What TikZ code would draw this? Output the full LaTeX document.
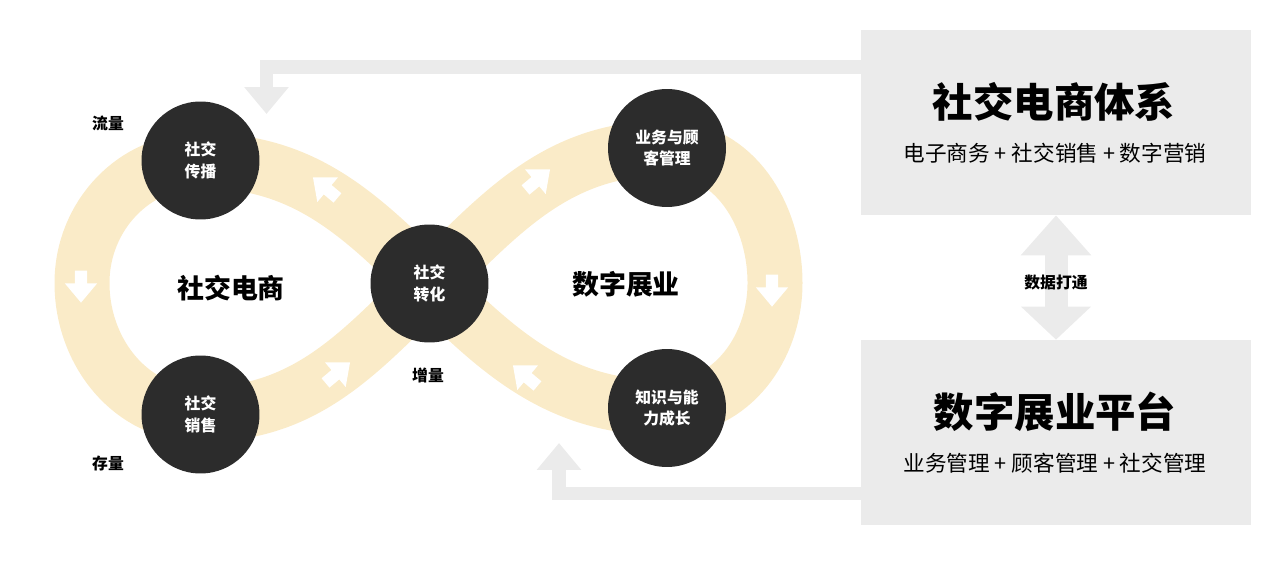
\documentclass[tikz,border=0pt]{standalone}
\usepackage{fontspec}
\setmainfont{Noto Sans CJK SC}
\usetikzlibrary{arrows.meta,shapes.arrows,backgrounds}
\definecolor{bandyellow}{HTML}{FAEBC8}
\definecolor{discdark}{HTML}{2C2C2C}
\definecolor{panelgray}{HTML}{EBEBEB}
\begin{document}
\begin{tikzpicture}[x=0.02cm,y=0.02cm,
	disc/.style={circle,fill=discdark,minimum size=2.36cm,inner sep=0pt,text=white,align=center,font=\bfseries\fontsize{9}{12.3}\selectfont},
	tag/.style={font=\bfseries\fontsize{9}{11}\selectfont},
	loopname/.style={font=\bfseries\fontsize{15.3}{18}\selectfont},
	panel/.style={fill=panelgray,minimum width=7.8cm,minimum height=3.7cm,inner sep=0pt},
	headline/.style={font=\bfseries\fontsize{23}{26}\selectfont},
	subline/.style={font=\fontsize{12.3}{14}\selectfont},
	flow/.style={single arrow,fill=white,inner xsep=0pt,inner ysep=0.115cm,minimum height=0.64cm,single arrow head extend=0.2cm,single arrow tip angle=80},
	feedback/.style={draw=panelgray,line width=0.27cm,-{Triangle[width=0.86cm,length=0.54cm]}},
	link/.style={draw=panelgray,line width=0.46cm,{Triangle[width=1.36cm,length=0.8cm]}-{Triangle[width=1.36cm,length=0.66cm]}}]
		\useasboundingbox (0,0) rectangle (1280,-564);

		\node[disc] (A) at (200.5,-160.5) {社交\\传播};
		\node[disc] (B) at (200.5,-414.5) {社交\\销售};
		\node[disc] (C) at (429.5,-283.5) {社交\\转化};
		\node[disc] (D) at (667,-148) {业务与顾\\客管理};
		\node[disc] (E) at (667,-408) {知识与能\\力成长};
		\coordinate (L) at (82,-283);
		\coordinate (R) at (775,-283);

		\node[loopname] (left) at (231,-288) {社交电商};
		\node[loopname] (right) at (626,-284) {数字展业};
		\node[tag] (flowin) at (108,-123) {流量};
		\node[tag] (stock) at (108,-463) {存量};
		\node[tag] (gain) at (428,-375) {增量};

		\node[panel] (P) at (1056,-122.5) {};
		\node[panel] (Q) at (1056,-432.5) {};
		\node[headline] (Ptitle) at (1054,-102) {社交电商体系};
		\node[subline] (Psub) at (1055,-153) {电子商务 + 社交销售 + 数字营销};
		\node[headline] (Qtitle) at (1055,-412) {数字展业平台};
		\node[subline] (Qsub) at (1055,-463) {业务管理 + 顾客管理 + 社交管理};
		\coordinate (Ain) at (266.5,-114);
		\coordinate (Ein) at (559,-443);

		\begin{scope}[on background layer]
			\draw[bandyellow,line width=1.1cm] (C.center) to[out=135,in=0] (A.center) to[out=180,in=90] (L) to[out=-90,in=180] (B.center) to[out=0,in=-135] (C.center) to[out=45,in=180] (D.center) to[out=0,in=90] (R) to[out=-90,in=0] (E.center) to[out=180,in=-45] (C.center);
			\node[flow,rotate=140] (f1) at (328,-190) {};
			\node[flow,rotate=-90] (f2) at (81,-283) {};
			\node[flow,rotate=40] (f3) at (335,-375) {};
			\node[flow,rotate=40] (f4) at (535,-182) {};
			\node[flow,rotate=-90] (f5) at (772,-287) {};
			\node[flow,rotate=140] (f6) at (528,-378) {};
		\end{scope}

		\draw[feedback] ([yshift=-0.75cm]P.north west) -| (Ain);
		\draw[feedback] ([yshift=0.64cm]Q.south west) -| (Ein);
		\draw[link] (P.south) to (Q.north);
		\node[tag] (sync) at (1056,-283) {数据打通};
\end{tikzpicture}
\end{document}
